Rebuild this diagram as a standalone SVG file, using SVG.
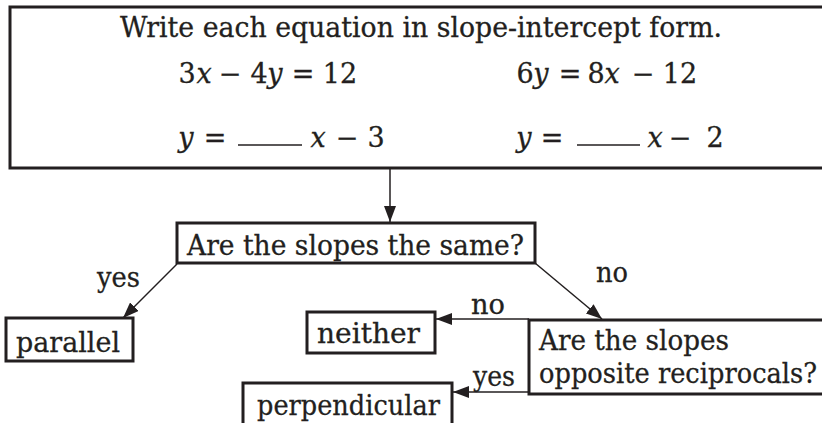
<svg xmlns="http://www.w3.org/2000/svg" width="822" height="423" viewBox="0 0 822 423">
<style>
  text { font-family: "DejaVu Serif", "Liberation Serif", serif; font-size: 27px; fill: #231f20; stroke: #231f20; stroke-width: 0.3; }
  .m { text-anchor: middle; }
  .i { font-style: italic; }
  .box { fill: #fff; stroke: #231f20; stroke-width: 3; }
  .con { stroke: #231f20; stroke-width: 1.5; fill: none; }
  .blank { stroke: #231f20; stroke-width: 1.5; }
</style>
<defs>
  <marker id="ah" viewBox="0 0 16 12" refX="16" refY="6" markerWidth="16" markerHeight="12" markerUnits="userSpaceOnUse" orient="auto">
    <path d="M0,0 L16,6 L0,12 Z" fill="#231f20"/>
  </marker>
</defs>
<rect width="822" height="423" fill="#fff"/>

<g id="connectors">
  <line class="con" x1="390" y1="168" x2="390" y2="222" marker-end="url(#ah)"/>
  <line class="con" x1="177" y1="264" x2="123" y2="318" marker-end="url(#ah)"/>
  <line class="con" x1="535" y1="263" x2="602" y2="319" marker-end="url(#ah)"/>
  <line class="con" x1="529" y1="319" x2="436" y2="319" marker-end="url(#ah)"/>
  <line class="con" x1="529" y1="392" x2="453" y2="392" marker-end="url(#ah)"/>
  <text x="97" y="287" textLength="43" lengthAdjust="spacingAndGlyphs">yes</text>
  <text x="596" y="282" textLength="32" lengthAdjust="spacingAndGlyphs">no</text>
  <text x="471" y="314" textLength="34" lengthAdjust="spacingAndGlyphs">no</text>
  <text x="473" y="386" textLength="42" lengthAdjust="spacingAndGlyphs">yes</text>
</g>

<g id="equations">
  <rect class="box" x="10" y="7" width="820" height="161"/>
  <text x="120" y="37" textLength="602" lengthAdjust="spacingAndGlyphs">Write each equation in slope-intercept form.</text>
  <text class="m" x="187" y="83">3</text><text class="m i" x="204" y="83">x</text>
  <text class="m" x="230" y="83">−</text>
  <text class="m" x="259" y="83">4</text><text class="m i" x="275" y="83">y</text>
  <text class="m" x="303" y="83">=</text>
  <text class="m" x="340" y="83">12</text>

  <text class="m" x="525" y="83">6</text><text class="m i" x="541" y="83">y</text>
  <text class="m" x="570" y="83">=</text>
  <text class="m" x="596" y="83">8</text><text class="m i" x="612" y="83">x</text>
  <text class="m" x="643" y="83">−</text>
  <text class="m" x="680" y="83">12</text>

  <text class="m i" x="186" y="147">y</text>
  <text class="m" x="215" y="147">=</text>
  <line class="blank" x1="238" y1="145" x2="302" y2="145"/>
  <text class="m i" x="318" y="147">x</text>
  <text class="m" x="347" y="147">−</text>
  <text class="m" x="376" y="147">3</text>

  <text class="m i" x="524" y="147">y</text>
  <text class="m" x="552" y="147">=</text>
  <line class="blank" x1="577" y1="145" x2="640" y2="145"/>
  <text class="m i" x="655" y="147">x</text>
  <text class="m" x="680" y="147">−</text>
  <text class="m" x="715" y="147">2</text>
</g>

<g id="same">
  <rect class="box" x="177" y="223" width="358" height="40"/>
  <text x="187" y="255" textLength="337" lengthAdjust="spacingAndGlyphs">Are the slopes the same?</text>
</g>

<g id="parallel">
  <rect class="box" x="6" y="318" width="127" height="43"/>
  <text x="16" y="352" textLength="104" lengthAdjust="spacingAndGlyphs">parallel</text>
</g>

<g id="neither">
  <rect class="box" x="307" y="312" width="128" height="41"/>
  <text x="317" y="343" textLength="103" lengthAdjust="spacingAndGlyphs">neither</text>
</g>

<g id="reciprocals">
  <rect class="box" x="529" y="320" width="300" height="74"/>
  <text x="539" y="350" textLength="190" lengthAdjust="spacingAndGlyphs">Are the slopes</text>
  <text x="539" y="383" textLength="278" lengthAdjust="spacingAndGlyphs">opposite reciprocals?</text>
</g>

<g id="perpendicular">
  <rect class="box" x="243" y="383" width="209" height="50"/>
  <text x="257" y="415" textLength="183" lengthAdjust="spacingAndGlyphs">perpendicular</text>
</g>
</svg>
